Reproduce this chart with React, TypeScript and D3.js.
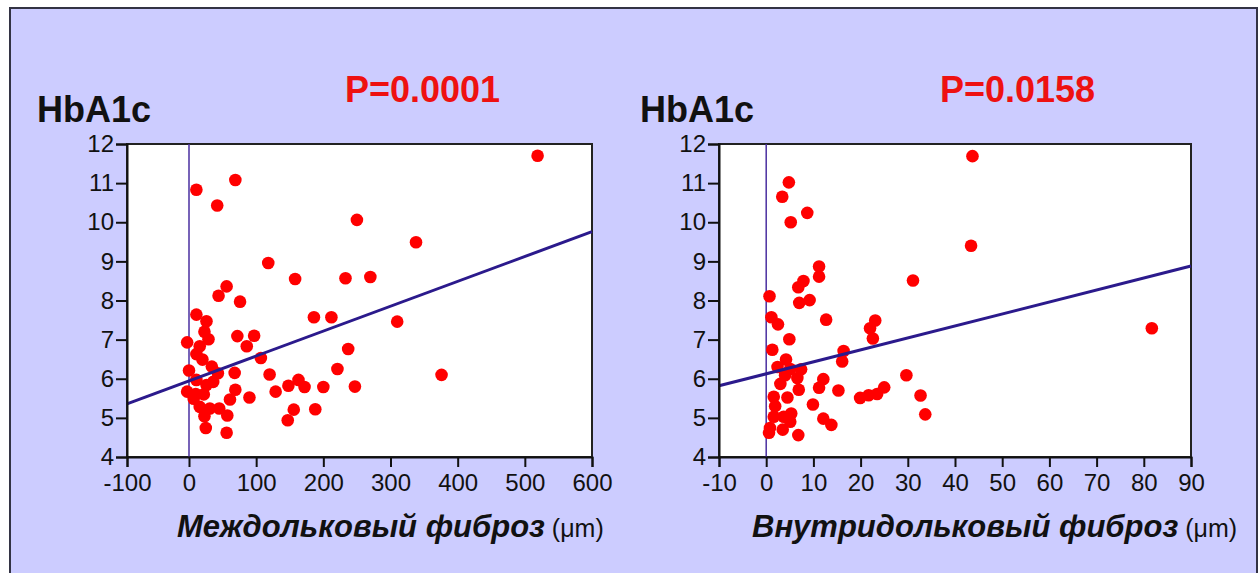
import React, { useEffect, useRef } from 'react';
import * as d3 from 'd3';

// HbA1c vs interlobular fibrosis (left panel)
const leftX = [11, 69, 42, 250, 118, 158, 233, 270, 56, 44, 76, 11, 26, 186, 212, 23, 29, 72, 97, -3, 16, 86, 11, 20, 107, 237, 0, 34, 43, 68, 120, 221, 11, 36, 26, -3, 10, 22, 69, 129, 148, 163, 172, 200, 247, 7, 61, 90, 16, 31, 45, 156, 188, 23, 57, 147, 25, 56, 519, 338, 310, 376];
const leftY = [10.83, 11.08, 10.43, 10.06, 8.96, 8.55, 8.57, 8.6, 8.36, 8.12, 7.97, 7.64, 7.47, 7.57, 7.57, 7.2, 7.01, 7.09, 7.1, 6.93, 6.83, 6.83, 6.63, 6.49, 6.53, 6.76, 6.21, 6.31, 6.14, 6.15, 6.11, 6.25, 5.97, 5.92, 5.84, 5.67, 5.61, 5.6, 5.72, 5.67, 5.82, 5.97, 5.79, 5.79, 5.8, 5.49, 5.47, 5.52, 5.28, 5.24, 5.24, 5.21, 5.22, 5.04, 5.06, 4.94, 4.74, 4.62, 11.7, 9.49, 7.46, 6.1];

// HbA1c vs intralobular fibrosis (right panel)
const rightX = [4.8, 3.4, 5.2, 8.7, 11.2, 11.2, 7.9, 6.8, 0.7, 7.0, 9.2, 1.1, 2.5, 12.7, 4.9, 1.3, 4.2, 2.4, 5.1, 7.4, 16.4, 16.1, 4.0, 6.6, 3.0, 6.9, 12.1, 11.2, 15.3, 1.6, 4.5, 1.9, 9.9, 5.3, 1.6, 3.7, 5.1, 12.1, 13.8, 0.8, 0.6, 3.5, 6.8, 19.9, 21.7, 23.5, 25.0, 29.7, 32.7, 33.7, 23.1, 22.0, 22.6, 31.1, 43.4, 43.7, 81.7];
const rightY = [11.02, 10.65, 10.0, 10.24, 8.87, 8.61, 8.5, 8.34, 8.11, 7.94, 8.01, 7.57, 7.39, 7.51, 7.01, 6.74, 6.49, 6.3, 6.25, 6.24, 6.71, 6.44, 6.09, 6.02, 5.87, 5.72, 5.99, 5.77, 5.7, 5.54, 5.52, 5.3, 5.34, 5.11, 5.03, 5.03, 4.9, 4.98, 4.82, 4.74, 4.62, 4.7, 4.56, 5.51, 5.58, 5.61, 5.78, 6.09, 5.57, 5.09, 7.49, 7.29, 7.03, 8.51, 9.4, 11.69, 7.29];

// regression lines: value at the two ends of the x axis
const leftFit = [5.36, 9.76];
const rightFit = [5.82, 8.88];

const leftTicks = [-100, 0, 100, 200, 300, 400, 500, 600];
const rightTicks = [-10, 0, 10, 20, 30, 40, 50, 60, 70, 80, 90];
const yTicks = [4, 5, 6, 7, 8, 9, 10, 11, 12];

const pValues = ['P=0.0001', 'P=0.0158'];
const xTitles = ['Междольковый фиброз', 'Внутридольковый фиброз'];

const FONT = '"Liberation Sans", Arial, sans-serif';

function drawPanel(svg, opts) {
  const { xScale, xs, ys, fit, ticks, title, p, titleX, pX, hbX } = opts;
  const y = d3.scaleLinear().domain([4, 12]).range([457, 144]);
  const r = xScale.range();
  const x0 = r[0], x1 = r[r.length - 1];
  const dom = xScale.domain();
  const g = svg.append('g');

  g.append('rect')
    .attr('x', x0).attr('y', 144)
    .attr('width', x1 - x0).attr('height', 457 - 144)
    .attr('fill', '#fff')
    .attr('stroke', '#222').attr('stroke-width', 2);

  // zero line
  g.append('line')
    .attr('x1', xScale(0)).attr('x2', xScale(0))
    .attr('y1', 144).attr('y2', 457)
    .attr('stroke', '#4a2fa0').attr('stroke-width', 1.5);

  g.selectAll('circle')
    .data(xs.map((d, i) => [d, ys[i]]))
    .enter()
    .append('circle')
    .attr('cx', d => xScale(d[0]))
    .attr('cy', d => y(d[1]))
    .attr('r', 6.3)
    .attr('fill', '#ff0000');

  g.append('line')
    .attr('x1', xScale(dom[0])).attr('y1', y(fit[0]))
    .attr('x2', xScale(dom[dom.length - 1])).attr('y2', y(fit[1]))
    .attr('stroke', '#2b1a8c').attr('stroke-width', 3);

  const yAxis = d3.axisLeft(y).tickValues(yTicks).tickSize(11).tickPadding(2)
    .tickFormat(d => String(d));
  const xAxis = d3.axisBottom(xScale).tickValues(ticks).tickSize(10).tickPadding(7)
    .tickFormat(d => String(d));

  g.append('g')
    .attr('transform', `translate(${x0},0)`)
    .call(yAxis)
    .call(a => a.select('.domain').attr('stroke', '#111').attr('stroke-width', 2))
    .call(a => a.selectAll('line').attr('stroke', '#111').attr('stroke-width', 2))
    .selectAll('text')
    .attr('font-family', FONT).attr('font-size', 24).attr('fill', '#111');

  g.append('g')
    .attr('transform', 'translate(0,457)')
    .call(xAxis)
    .call(a => a.select('.domain').attr('stroke', '#111').attr('stroke-width', 2))
    .call(a => a.selectAll('line').attr('stroke', '#111').attr('stroke-width', 2))
    .selectAll('text')
    .attr('font-family', FONT).attr('font-size', 24).attr('fill', '#111');

  svg.append('text')
    .attr('x', hbX).attr('y', 122)
    .attr('font-family', FONT).attr('font-weight', 'bold').attr('font-size', 36)
    .attr('fill', '#111')
    .text('HbA1c');

  svg.append('text')
    .attr('x', pX).attr('y', 102)
    .attr('font-family', FONT).attr('font-weight', 'bold').attr('font-size', 36)
    .attr('fill', '#ee1111')
    .text(p);

  const t = svg.append('text')
    .attr('x', titleX).attr('y', 537)
    .attr('font-family', FONT).attr('fill', '#111');
  t.append('tspan')
    .attr('font-weight', 'bold').attr('font-style', 'italic').attr('font-size', 31)
    .text(title);
  t.append('tspan')
    .attr('font-size', 25)
    .text(' (μm)');
}

export default function App() {
  const ref = useRef(null);

  useEffect(() => {
    const svg = d3.select(ref.current);
    svg.selectAll('*').remove();

    svg.append('rect')
      .attr('x', 10).attr('y', 8)
      .attr('width', 1247).attr('height', 580)
      .attr('fill', '#ccccff')
      .attr('stroke', '#333344').attr('stroke-width', 2);

    const xLeft = d3.scaleLinear().domain([-100, 0, 600]).range([127, 189, 592]);
    const xRight = d3.scaleLinear().domain([-10, 90]).range([719, 1191]);

    drawPanel(svg, {
      xScale: xLeft, xs: leftX, ys: leftY, fit: leftFit, ticks: leftTicks,
      title: xTitles[0], p: pValues[0], titleX: 177, pX: 345, hbX: 37,
    });
    drawPanel(svg, {
      xScale: xRight, xs: rightX, ys: rightY, fit: rightFit, ticks: rightTicks,
      title: xTitles[1], p: pValues[1], titleX: 752, pX: 940, hbX: 640,
    });
  }, []);

  return (
    <svg ref={ref} width={1259} height={573}
      style={{ position: 'absolute', left: 0, top: 0, background: '#fff' }} />
  );
}
